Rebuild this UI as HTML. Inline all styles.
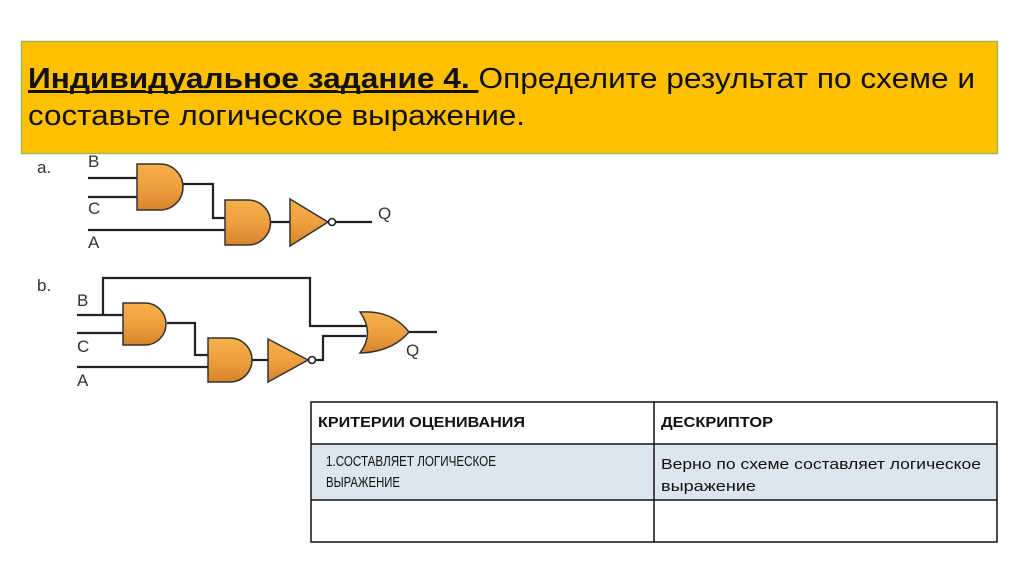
<!DOCTYPE html>
<html><head><meta charset="utf-8"><style>html,body{margin:0;padding:0;background:#fff}svg{display:block}</style></head>
<body>
<svg width="1024" height="574" viewBox="0 0 1024 574" xmlns="http://www.w3.org/2000/svg" font-family="Liberation Sans, sans-serif">
<defs>
<linearGradient id="g" x1="0" y1="0" x2="0" y2="1"><stop offset="0" stop-color="#f6b04a"/><stop offset="0.5" stop-color="#eea040"/><stop offset="1" stop-color="#d8842a"/></linearGradient>
</defs>
<rect x="21.5" y="41.5" width="976" height="112" fill="#ffc000" stroke="#9bbb59" stroke-width="1.5"/>
<text x="28" y="88" font-size="29" fill="#111" textLength="947" lengthAdjust="spacingAndGlyphs"><tspan font-weight="bold" text-decoration="underline">Индивидуальное задание 4. </tspan>Определите результат по схеме и</text>
<line x1="28" y1="92" x2="475" y2="92" stroke="#111" stroke-width="2"/>
<text x="28" y="125" font-size="29" fill="#111" textLength="497" lengthAdjust="spacingAndGlyphs">составьте логическое выражение.</text>

<g stroke="#222" stroke-width="2.2" fill="none">
<path d="M88 178H137M88 197H137M183 184H213V218H225M88 230H225M270 222H290M336 222H372"/>
<path d="M103 315V278H310V326H366M77 315H123M77 333H123M167 323H195V355H208M77 367H208M252 360H268M315 360H323V336H366M408 332H437"/>
</g>
<g stroke="#333" stroke-width="1.5" fill="url(#g)">
<path d="M137 164H160A23 23 0 0 1 160 210H137Z"/>
<path d="M225 200H248A22.5 22.5 0 0 1 248 245H225Z"/>
<path d="M290 199L328 222L290 246Z"/>
<path d="M123 303H145A21 21 0 0 1 145 345H123Z"/>
<path d="M208 338H230A22 22 0 0 1 230 382H208Z"/>
<path d="M268 339L308 360L268 382Z"/>
<path d="M360 312Q392 310 409 332Q392 352 360 353Q375 333 360 312Z"/>
</g>
<g stroke="#222" stroke-width="1.6" fill="#fff">
<circle cx="332" cy="222" r="3.5"/><circle cx="312" cy="360" r="3.5"/>
</g>
<g font-size="17" fill="#333">
<text x="37" y="173">a.</text><text x="88" y="167">B</text><text x="88" y="214">C</text><text x="88" y="248">A</text><text x="378" y="219">Q</text>
<text x="37" y="291">b.</text><text x="77" y="306">B</text><text x="77" y="352">C</text><text x="77" y="386">A</text><text x="406" y="356">Q</text>
</g>

<rect x="311" y="444" width="686" height="56" fill="#dce6f1"/>
<g stroke="#111" stroke-width="1.5" fill="none">
<rect x="311" y="402" width="686" height="140"/>
<line x1="311" y1="444" x2="997" y2="444"/><line x1="311" y1="500" x2="997" y2="500"/><line x1="654" y1="402" x2="654" y2="542"/>
</g>
<g font-size="15" fill="#111">
<text x="318" y="427" font-weight="bold" textLength="207" lengthAdjust="spacingAndGlyphs">КРИТЕРИИ ОЦЕНИВАНИЯ</text>
<text x="661" y="427" font-weight="bold" textLength="112" lengthAdjust="spacingAndGlyphs">ДЕСКРИПТОР</text>
<text x="326" y="466" textLength="170" lengthAdjust="spacingAndGlyphs">1.СОСТАВЛЯЕТ ЛОГИЧЕСКОЕ</text>
<text x="326" y="487" textLength="74" lengthAdjust="spacingAndGlyphs">ВЫРАЖЕНИЕ</text>
<text x="661" y="469" textLength="320" lengthAdjust="spacingAndGlyphs">Верно по схеме составляет логическое</text>
<text x="661" y="491" textLength="95" lengthAdjust="spacingAndGlyphs">выражение</text>
</g>
</svg>
</body></html>
